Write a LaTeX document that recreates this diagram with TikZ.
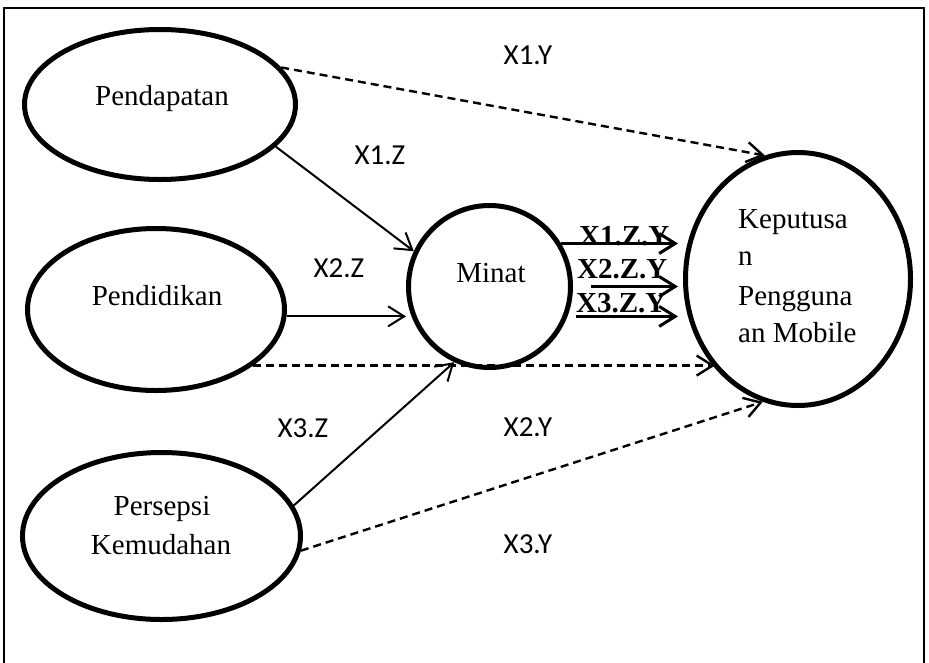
\documentclass[tikz,border=0pt]{standalone}
\usepackage{fontspec}
\setmainfont{Liberation Serif}
\newfontfamily\calib{Carlito}
\usetikzlibrary{shapes.geometric,arrows.meta}
\begin{document}
\begin{tikzpicture}[x=1pt,y=-1pt,
  var/.style={draw,ellipse,line width=5pt,inner sep=0pt},
  txt/.style={font=\fontsize{29}{36}\selectfont,inner sep=0pt,anchor=base},
  ktxt/.style={font=\fontsize{29}{36}\selectfont,inner sep=0pt,anchor=base west},
  lab/.style={font=\calib\fontsize{29}{36}\selectfont,inner sep=0pt,anchor=base},
  blab/.style={font=\bfseries\fontsize{29}{36}\selectfont,inner sep=0pt,anchor=base west},
  arr/.style={-{Straight Barb[length=16pt,width=20pt]},line width=2pt},
  darr/.style={arr,line width=2.4pt,dash pattern=on 8pt off 5pt},
  barr/.style={arr,line width=3pt}
]
\useasboundingbox (0,0) rectangle (929,662);
% frame
\draw[line width=2pt] (4,664) -- (4,8) -- (924,8) -- (924,664);

% variables
\node[var,minimum width=271pt,minimum height=150pt] (pend) at (160,104.5) {};
\node[var,minimum width=257pt,minimum height=162pt] (pendi) at (156,309.5) {};
\node[var,minimum width=278pt,minimum height=167pt] (pers) at (161.5,536) {};
\node[var,minimum width=162pt,minimum height=162pt] (min) at (489.5,286.5) {};
\node[var,minimum width=225pt,minimum height=253pt] (kep) at (798,279) {};

% texts
\node[txt] (tpend) at (162,105) {Pendapatan};
\node[txt] (tpendi) at (157,305) {Pendidikan};
\node[txt] (tpers1) at (162,515) {Persepsi};
\node[txt] (tpers2) at (161,554) {Kemudahan};
\node[txt] (tmin) at (491,282) {Minat};
\node[ktxt] (k1) at (738,228) {Keputusa};
\node[ktxt] (k2) at (738,265) {n};
\node[ktxt] (k3) at (738,305) {Pengguna};
\node[ktxt] (k4) at (738,342) {an Mobile};

% path labels
\node[lab] (l1y) at (528,64) {X1.Y};
\node[lab] (l1z) at (380,164) {X1.Z};
\node[lab] (l2z) at (339,277) {X2.Z};
\node[lab] (l3z) at (303,437) {X3.Z};
\node[lab] (l2y) at (528,436) {X2.Y};
\node[lab] (l3y) at (528,553) {X3.Y};
\node[blab] (b1) at (579,245) {X1.Z.Y};
\node[blab] (b2) at (577,278) {X2.Z.Y};
\node[blab] (b3) at (576,312) {X3.Z.Y};

% connectors
\draw[darr] (pend.17) -- (kep.105);
\draw[arr] (pend.-20) -- (min.155);
\draw[arr] (pendi.-3) -- (pendi.-3 -| min.west);
\draw[darr] (pendi.-30) -- (pendi.-30 -| kep.-133);
\draw[arr] (pers.13) -- (min.-115);
\draw[darr] (pers.-6) -- (kep.-106);

\draw[barr,shorten >=5pt] (min.31.6) -- (min.31.6 -| kep.west);
\draw[barr,shorten <=18pt,shorten >=5pt] (min.east) -- (min.east -| kep.west);
\draw[barr,shorten <=9pt,shorten >=5pt] (min.-21) -- (min.-21 -| kep.west);
\end{tikzpicture}
\end{document}
